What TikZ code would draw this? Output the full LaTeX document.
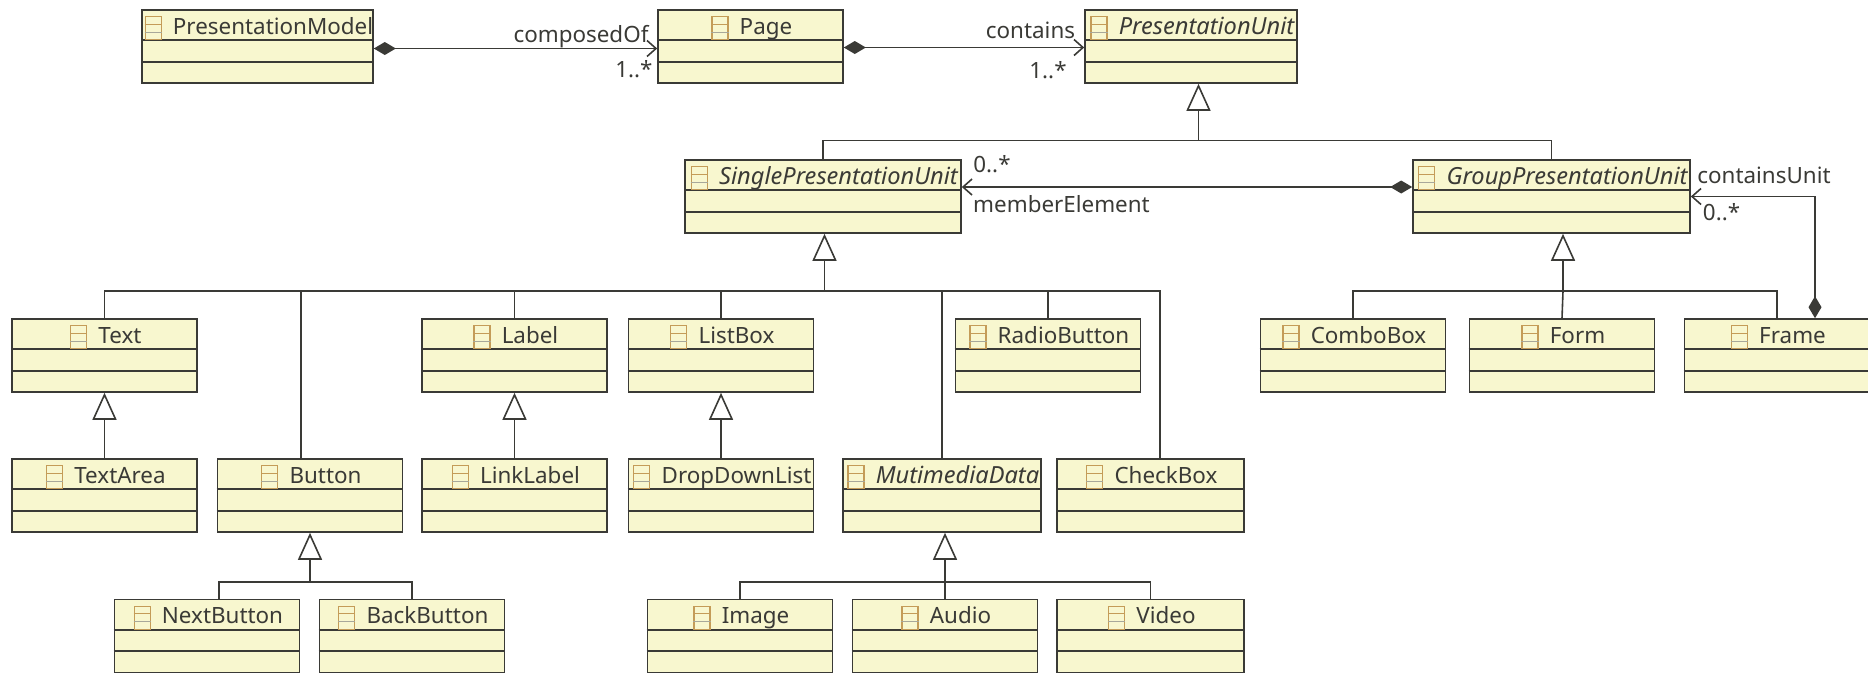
\documentclass[tikz,border=0pt]{standalone}
\usepackage{fontspec}
\setmainfont{Noto Sans}
\usetikzlibrary{arrows.meta,positioning}

\definecolor{classfill}{HTML}{F8F7CF}
\definecolor{classline}{HTML}{3A3A36}
\definecolor{iconline}{HTML}{C49C58}
\definecolor{icongrey}{HTML}{A8A89A}

\tikzset{
    umlbox/.style={draw=classline, fill=classfill, line width=1.6pt, inner sep=0pt, minimum height=73pt},
    umlline/.style={draw=classline, line width=1.6pt},
    classname/.style={inner sep=0pt, text height=17pt, text depth=5pt, text=classline, font=\fontsize{22.4}{23}\selectfont},
    slanted/.style={font=\fontsize{23.6}{24}\selectfont\itshape},
    classicon/.style={draw=iconline, line width=1.2pt, fill=classfill, inner sep=0pt, minimum width=16pt, minimum height=23pt},
    assoclabel/.style={inner sep=0pt, text=classline, font=\fontsize{22.4}{23}\selectfont},
    link/.style={draw=classline, line width=1.6pt},
    gen/.style={link, -{Triangle[open, fill=white, length=27pt, width=24pt]}},
    assoc/.style={link, {Diamond[length=22pt, width=13pt]}-{Straight Barb[length=9pt, width=16pt]}},
}

% name, centre x, centre y, width, text
\newcommand{\umlclass}[6][]{
    \node[umlbox, minimum width=#5pt] (#2) at (#3,#4) {};
    \draw[umlline] ([yshift=-31pt]#2.north west) -- ([yshift=-31pt]#2.north east);
    \draw[umlline] ([yshift=-52.5pt]#2.north west) -- ([yshift=-52.5pt]#2.north east);
    \node[classname, #1] (#2Name) at ([xshift=15.5pt, yshift=-19pt]#2.north) {#6};
    \node[classicon, left=11pt of #2Name.west] (#2Icon) {};
    \draw[iconline, line width=1pt] ([yshift=4pt]#2Icon.west) -- ([yshift=4pt]#2Icon.east);
    \draw[icongrey, line width=1pt] ([yshift=-4pt]#2Icon.west) -- ([yshift=-4pt]#2Icon.east);
}

\begin{document}
\begin{tikzpicture}[x=1pt, y=-1pt]
    \useasboundingbox (0,0) rectangle (1868,673);

    % top row
    \umlclass{PresModel}{257.5}{46.5}{231}{PresentationModel}
    \umlclass{Page}{750.5}{46.5}{185}{Page}
    \umlclass[slanted]{PresUnit}{1191}{46.5}{212}{PresentationUnit}

    \umlclass[slanted]{SingleUnit}{823}{196.5}{276}{SinglePresentationUnit}
    \umlclass[slanted]{GroupUnit}{1551.5}{196.5}{277}{GroupPresentationUnit}

    \umlclass{Text}{104.5}{355.5}{185}{Text}
    \umlclass{Label}{514.5}{355.5}{185}{Label}
    \umlclass{ListBox}{721}{355.5}{185}{ListBox}
    \umlclass{RadioButton}{1048}{355.5}{185}{RadioButton}
    \umlclass{ComboBox}{1353}{355.5}{185}{ComboBox}
    \umlclass{Form}{1562}{355.5}{185}{Form}
    \umlclass{Frame}{1777}{355.5}{185}{Frame}

    \umlclass{TextArea}{104.5}{495.5}{185}{TextArea}
    \umlclass{Button}{310}{495.5}{185}{Button}
    \umlclass{LinkLabel}{514.5}{495.5}{185}{LinkLabel}
    \umlclass{DropDownList}{721}{495.5}{185}{DropDownList}
    \umlclass[slanted]{MediaData}{942}{495.5}{198}{MutimediaData}
    \umlclass{CheckBox}{1150.5}{495.5}{187}{CheckBox}

    \umlclass{NextButton}{207}{636}{185}{NextButton}
    \umlclass{BackButton}{412}{636}{185}{BackButton}
    \umlclass{Image}{740}{636}{185}{Image}
    \umlclass{Audio}{945}{636}{185}{Audio}
    \umlclass{Video}{1150.5}{636}{187}{Video}

    % buses
    \coordinate (unitBus) at (1198.5,140.5);
    \coordinate (singleBus) at (824.5,291);
    \coordinate (groupBus) at (1563,291);
    \coordinate (buttonBus) at (310,582);
    \coordinate (mediaBus) at (945,582);

    % associations
    \draw[assoc] ([yshift=-2pt]PresModel.east) -- ([yshift=-2pt]Page.west);
    \draw[assoc] ([yshift=-1pt]Page.east) -- ([yshift=-1pt]PresUnit.west);
    \draw[assoc] ([yshift=9.5pt]GroupUnit.west) -- ([yshift=9.5pt]SingleUnit.east);
    \draw[assoc] ([xshift=38pt]Frame.north) |- (GroupUnit.east);

    % generalisations
    \draw[gen] (unitBus) -- (unitBus |- PresUnit.south);
    \draw[link] (SingleUnit.north) |- (unitBus) -| (GroupUnit.north);

    \draw[gen] (singleBus) -- (singleBus |- SingleUnit.south);
    \draw[link] (Text.north) |- (singleBus) -| ([xshift=9.5pt]CheckBox.north);
    \draw[link] (singleBus -| Button.north) ++(-9pt,0) -- ([xshift=-9pt]Button.north);
    \draw[link] (singleBus -| Label.north) -- (Label.north);
    \draw[link] (singleBus -| ListBox.north) -- (ListBox.north);
    \draw[link] (singleBus -| MediaData.north) -- (MediaData.north);
    \draw[link] (singleBus -| RadioButton.north) -- (RadioButton.north);

    \draw[gen] (Text.north |- TextArea.north) -- (Text.south);
    \draw[gen] (Label.north |- LinkLabel.north) -- (Label.south);
    \draw[gen] (ListBox.north |- DropDownList.north) -- (ListBox.south);

    \draw[gen] (buttonBus) -- (Button.south);
    \draw[link] ([xshift=12pt]NextButton.north) |- (buttonBus) -| (BackButton.north);

    \draw[gen] (mediaBus) -- (mediaBus |- MediaData.south);
    \draw[link] (Image.north) |- (mediaBus) -| (Video.north);
    \draw[link] (mediaBus) -- (Audio.north);

    \draw[gen] (groupBus) -- (groupBus |- GroupUnit.south);
    \draw[link] (ComboBox.north) |- (groupBus) -| (Frame.north);
    \draw[link] (groupBus) -- (Form.north);

    % role names
    \node[assoclabel] (composedName) at (581,37) {composedOf};
    \node[assoclabel] (composedMult) at (634,69) {1..*};
    \node[assoclabel] (containsName) at (1030.5,30) {contains};
    \node[assoclabel] (containsMult) at (1048,70) {1..*};
    \node[assoclabel] (memberMult) at (992,164.5) {0..*};
    \node[assoclabel] (memberName) at (1061.5,204) {memberElement};
    \node[assoclabel] (unitName) at (1764,175) {containsUnit};
    \node[assoclabel] (unitMult) at (1721.5,212) {0..*};
\end{tikzpicture}
\end{document}
